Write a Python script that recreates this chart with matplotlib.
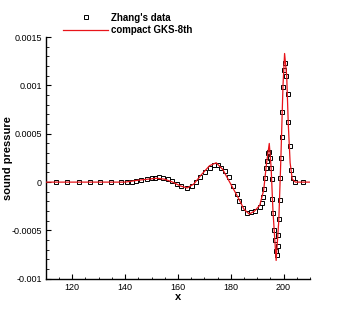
import matplotlib as mpl
mpl.use('Agg')
import matplotlib.pyplot as plt
from matplotlib.ticker import MultipleLocator, FixedLocator

mpl.rcParams['font.family'] = ['Liberation Sans', 'DejaVu Sans']
mpl.rcParams['xtick.labelsize'] = 6.5
mpl.rcParams['ytick.labelsize'] = 6.5

# Zhang's data (squares)
zhang_x = [113.8, 118.1, 122.5, 126.6, 130.6, 134.7, 138.3, 140.6, 142.5, 144.0,
           146.2, 148.3, 150.0, 151.5, 152.9, 154.4, 156.4, 157.8, 159.5, 161.2,
           163.5, 165.3, 166.7, 168.4, 170.2, 172.0, 173.6, 175.3, 176.4, 177.8,
           179.3, 180.8, 182.2, 183.2, 184.5, 186.0, 187.8, 189.2, 190.9, 192.0,
           192.4, 192.7, 193.0, 193.4, 193.6, 194.0, 194.5, 194.9, 195.3, 195.5,
           195.8, 196.0, 196.4, 196.7, 197.0, 197.4, 197.8, 197.9, 198.2, 198.5,
           198.8, 198.9, 199.3, 199.4, 199.7, 200.1, 200.4, 201.1, 201.6, 201.8,
           202.3, 202.7, 203.4, 204.2, 207.2]
zhang_p = [0.0, 0.0, 0.0, 0.0, 0.0, 0.0, 0.0, 0.0, 0.0, 0.00001,
           0.00002, 0.00003, 0.00004, 0.00004, 0.00005, 0.00004, 0.00003, 0.00001, -0.00002, -0.00004,
           -0.00006, -0.00004, 0.0, 0.00005, 0.0001, 0.00015, 0.00018, 0.00018, 0.00015, 0.00011,
           0.00005, -0.00004, -0.00012, -0.0002, -0.00027, -0.00032, -0.00031, -0.0003, -0.00026, -0.00022,
           -0.00015, -0.00007, 0.00004, 0.00015, 0.00022, 0.0003, 0.00031, 0.00025, 0.00015, 0.00003,
           -0.00017, -0.00032, -0.00049, -0.0006, -0.00071, -0.00075, -0.00066, -0.00055, -0.00038, -0.00018,
           0.00004, 0.00025, 0.00047, 0.00072, 0.00098, 0.00116, 0.00123, 0.0011, 0.00091, 0.00062,
           0.00037, 0.00013, 0.00004, 0.0, 0.0]

# compact GKS-8th (line)
gks_x = [110, 140, 145, 152, 155, 158, 161, 163.5, 166, 169, 172, 174.5, 177, 180,
         183, 185, 187, 189, 191, 192.5, 193.5, 194.6, 195.3, 196, 197.2, 198.2,
         199, 199.8, 200.4, 201.2, 201.8, 202.5, 203.3, 204.5, 210]
gks_p = [0.0, 0.0, 0.00002, 0.00004, 0.00003, 0.0, -0.00004, -0.00006, -0.00002, 0.00008,
         0.00017, 0.0002, 0.00013, -0.00002, -0.00017, -0.00028, -0.00033, -0.0003, -0.00024,
         -0.00008, 0.00018, 0.0004, 0.00015, -0.0003, -0.00081, -0.0004, 0.00025, 0.001,
         0.00133, 0.0011, 0.0006, 0.0002, 0.00003, 0.0, 0.0]

fig = plt.figure(figsize=[3.53, 3.14], dpi=100)
ax = fig.add_axes([0.130, 0.112, 0.748, 0.770])

ax.plot(zhang_x, zhang_p, 's', markersize=3.2, markerfacecolor='none',
        markeredgecolor='black', markeredgewidth=0.7, label="Zhang's data", zorder=2)
ax.plot(gks_x, gks_p, '-', color='#e8141a', linewidth=0.9, label='compact GKS-8th', zorder=3)

ax.set_xlim([110, 210])
ax.set_ylim([-0.001, 0.0015])
ax.xaxis.set_major_locator(MultipleLocator(20))
ax.xaxis.set_minor_locator(MultipleLocator(5))
ax.yaxis.set_major_locator(FixedLocator([-0.001, -0.0005, 0, 0.0005, 0.001, 0.0015]))
ax.yaxis.set_minor_locator(MultipleLocator(0.0001))
ax.set_yticklabels(['-0.001', '-0.0005', '0', '0.0005', '0.001', '0.0015'])

ax.spines['top'].set_visible(False)
ax.spines['right'].set_visible(False)
ax.spines['left'].set_linewidth(1.0)
ax.spines['bottom'].set_linewidth(1.0)
ax.tick_params(which='major', direction='in', length=3.5, width=0.8, pad=3)
ax.tick_params(which='minor', direction='in', length=1.8, width=0.6)

ax.set_xlabel('x', fontsize=8, fontweight='bold', labelpad=0)
ax.set_ylabel('sound pressure', fontsize=8, fontweight='bold')
ax.yaxis.set_label_coords(-0.125, 0.5)

leg = ax.legend(loc='upper left', bbox_to_anchor=(0.153, 0.987), bbox_transform=fig.transFigure,
                frameon=False, handlelength=4.7, handletextpad=0.3, labelspacing=0.25,
                prop={'size': 7, 'weight': 'bold'})

plt.savefig('out.png', dpi=100)
